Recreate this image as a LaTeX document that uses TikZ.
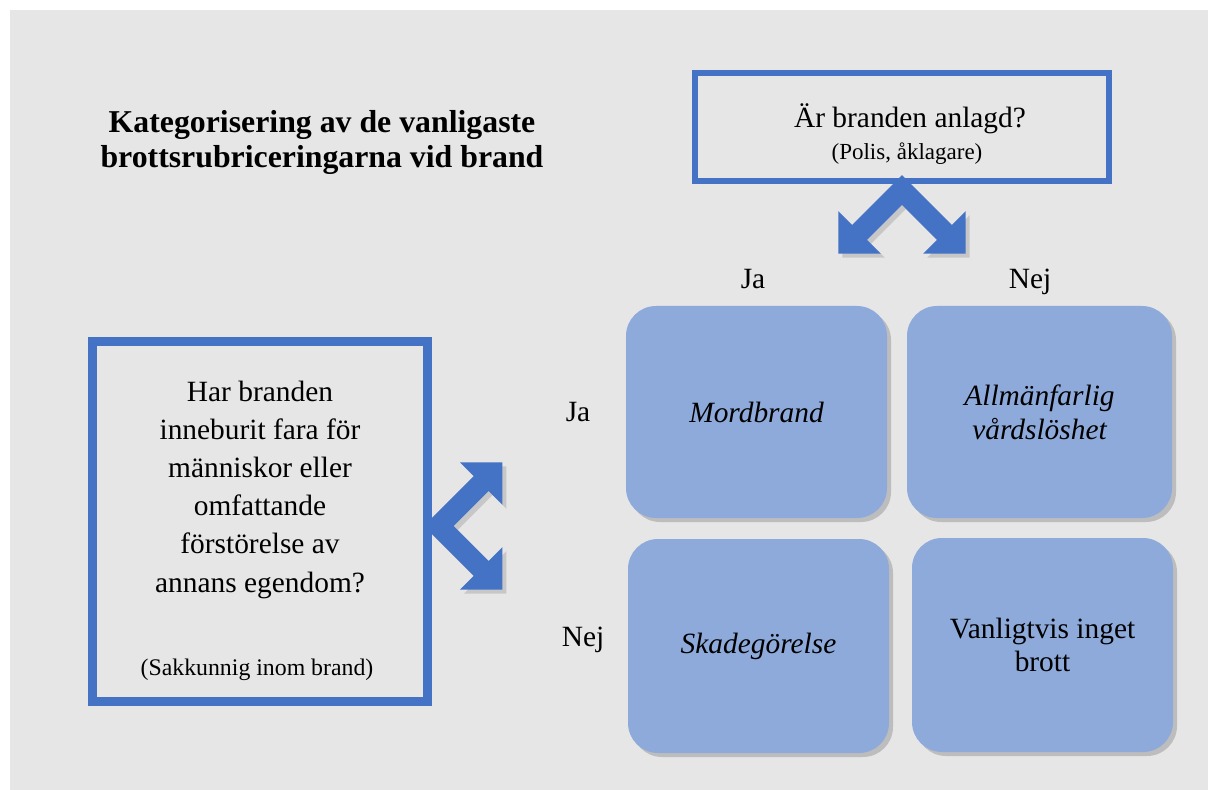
\documentclass[tikz,border=0pt]{standalone}
\usepackage{fontspec}
\setmainfont{Liberation Serif}
\usetikzlibrary{shadows}
\definecolor{bgGray}{HTML}{E6E6E6}
\definecolor{frameBlue}{HTML}{4472C4}
\definecolor{cellBlue}{HTML}{8EAADB}
\newcommand\mainsz{\fontsize{14.7}{16.8}\selectfont}
\newcommand\subsz{\fontsize{11.5}{13}\selectfont}
\tikzset{
  qbox/.style={draw=frameBlue, fill=bgGray, outer sep=0pt, inner sep=0pt},
  cell/.style={fill=cellBlue, rounded corners=15pt, outer sep=0pt,
    minimum width=130.5pt, minimum height=106pt, align=center, font=\mainsz,
    drop shadow={shadow xshift=2pt, shadow yshift=-2pt, opacity=.4}},
  chev/.style={fill=frameBlue,
    drop shadow={shadow xshift=2pt, shadow yshift=-2pt, opacity=.3}},
  lbl/.style={font=\mainsz, anchor=base},
}
\begin{document}
\begin{tikzpicture}[x=0.5pt, y=-0.5pt]
  \useasboundingbox (0,0) rectangle (1208,790);
  \fill[bgGray] (10,10) rectangle (1208,790);

  % Title (base anchor sits on the last line)
  \node[font=\fontsize{15.9}{17.5}\selectfont\bfseries, align=center, anchor=base]
    (title) at (322,168) {Kategorisering av de vanligaste\\brottsrubriceringarna vid brand};

  % Question boxes (frames only, text placed separately)
  \node[qbox, line width=3pt, minimum width=207.25pt, minimum height=54pt] (q) at (902,127.5) {};
  \node[qbox, line width=4.5pt, minimum width=167.25pt, minimum height=179.5pt] (l) at (260,521.5) {};

  % Double arrows out of the questions
  \begin{scope}[shift={(q.south)}, yshift=-4.25pt]
    \fill[chev] (0,-14.85) -- (-49.85,35) -- (-63.64,21.21) -- (-63.64,63.64) -- (-21.21,63.64)
      -- (-35,49.85) -- (0,14.85) -- (35,49.85) -- (21.21,63.64) -- (63.64,63.64)
      -- (63.64,21.21) -- (49.85,35) -- cycle;
  \end{scope}
  \begin{scope}[shift={(l.east)}, xshift=5.75pt, yshift=-2.25pt]
    \fill[chev] (-14.85,0) -- (35,-49.85) -- (21.21,-63.64) -- (63.64,-63.64) -- (63.64,-21.21)
      -- (49.85,-35) -- (14.85,0) -- (49.85,35) -- (63.64,21.21) -- (63.64,63.64)
      -- (21.21,63.64) -- (35,49.85) -- cycle;
  \end{scope}
  % redraw frames over the arrow tails
  \draw[frameBlue, line width=3pt] (q.south west) rectangle (q.north east);
  \draw[frameBlue, line width=4.5pt] (l.south west) rectangle (l.north east);

  % Question texts
  \node[lbl] (qtext) at (910,128) {Är branden anlagd?};
  \node[font=\subsz, anchor=base] (qsub) at (907,160) {(Polis, åklagare)};
  \node[font=\fontsize{14.7}{19.1}\selectfont, align=center, anchor=base] (ltext) at (260,592)
    {Har branden\\inneburit fara för\\människor eller\\omfattande\\förstörelse av\\annans egendom?};
  \node[font=\fontsize{11.9}{13}\selectfont, anchor=base] (lsub) at (257,675) {(Sakkunnig inom brand)};

  % Ja / Nej labels
  \node[lbl] (jaTop) at (753,289) {Ja};
  \node[lbl] (nejTop) at (1030,289) {Nej};
  \node[lbl] (jaLeft) at (578,422) {Ja};
  \node[lbl] (nejLeft) at (583,646) {Nej};

  % Outcome cells
  \node[cell] (mord) at (756.5,412) {\itshape Mordbrand};
  \node[cell, minimum width=132.5pt] (allm) at (1039.5,412) {\itshape Allmänfarlig\\\itshape vårdslöshet};
  \node[cell, minimum height=107pt] (skade) at (758.5,646) {\itshape Skadegörelse};
  \node[cell, minimum height=107pt] (vanl) at (1042.5,645) {Vanligtvis inget\\brott};
\end{tikzpicture}
\end{document}
